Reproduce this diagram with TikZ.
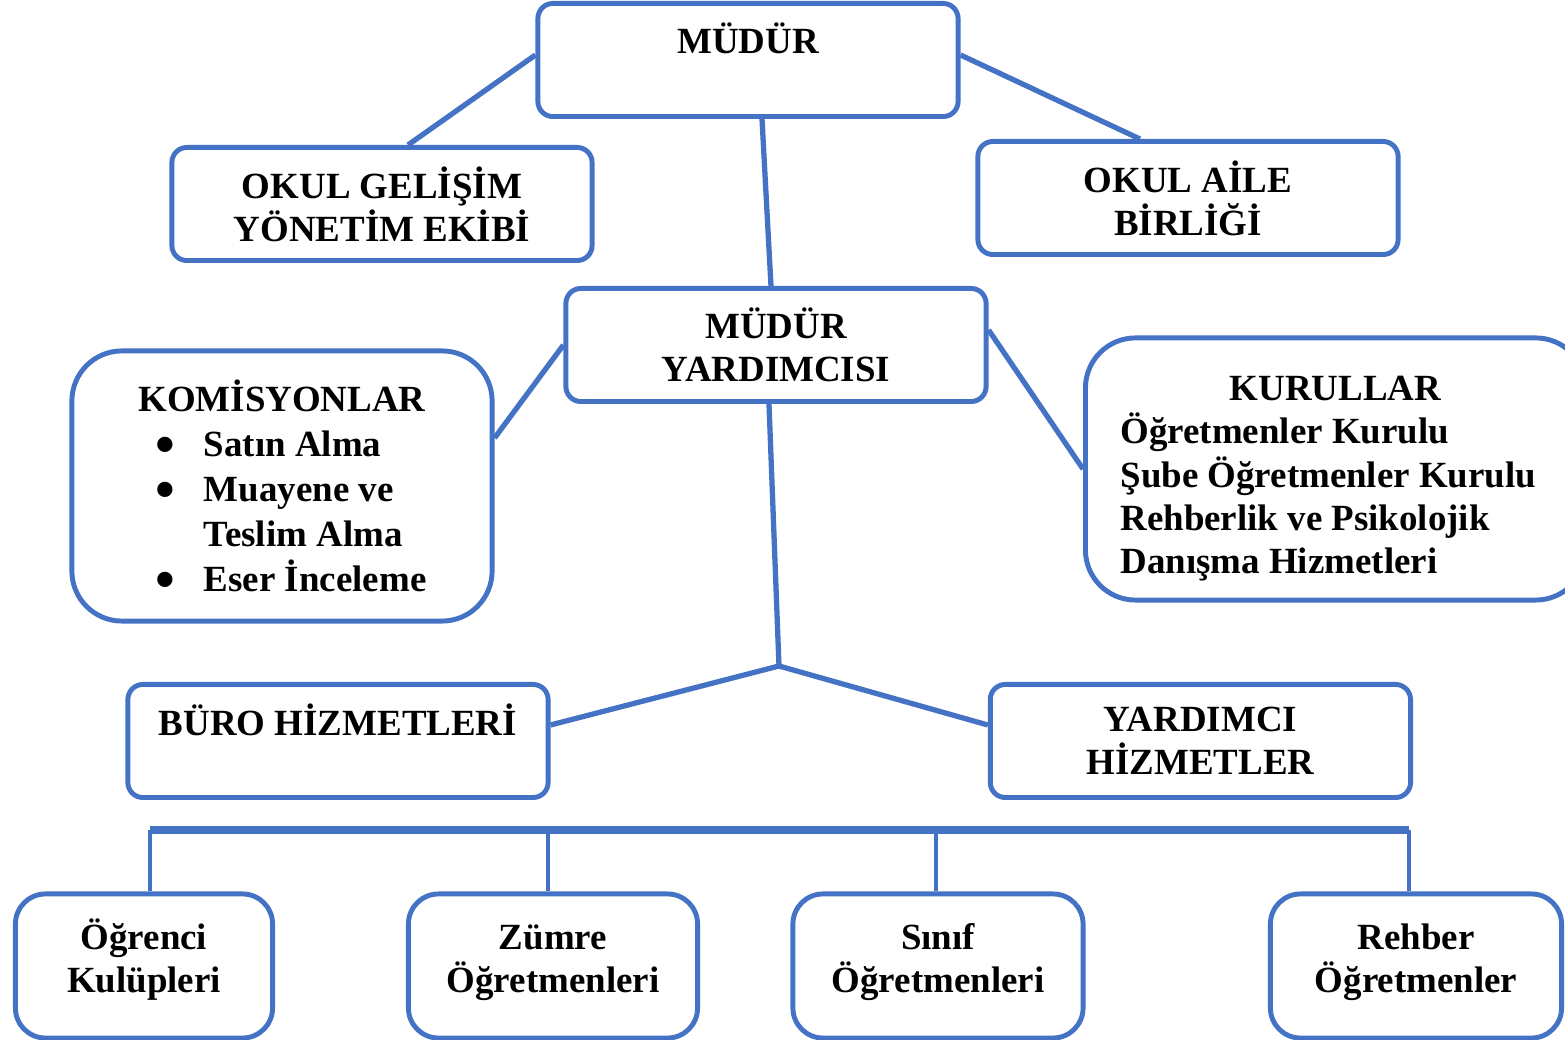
\documentclass[tikz,border=0pt]{standalone}
\usepackage{fontspec}
\setmainfont{Liberation Serif}
\usepackage{tikz}
\usetikzlibrary{positioning,calc}
\definecolor{orgblue}{HTML}{4472C4}
\newcommand{\bigdot}{\smash{\raisebox{-2pt}{\fontsize{16}{12}\selectfont\textbullet}}}
\newcommand{\tallstrut}{\vphantom{Ö}}
\newcommand{\deepstrut}{\rule[-0.2cm]{0pt}{0pt}}

\begin{document}
\begin{tikzpicture}[
    x=0.01cm, y=-0.01cm,
    font=\fontsize{10.5}{12.3}\selectfont\bfseries,
    box/.style={rectangle, draw=orgblue, line width=1.4pt, rounded corners=0.15cm, minimum width=4.2cm, minimum height=1.13cm, align=center, inner sep=0pt},
    bigbox/.style={rectangle, draw=orgblue, line width=1.4pt, rounded corners=0.5cm, align=flush left, inner ysep=0pt},
    unit/.style={rectangle, draw=orgblue, line width=1.4pt, rounded corners=0.3cm, minimum height=1.44cm, align=center, inner sep=0pt},
    link/.style={draw=orgblue, line width=1.5pt},
    bar/.style={draw=orgblue, line width=2pt}
]
\useasboundingbox (0,0) rectangle (1565,1040);

% top levels
\node[box] (mudur) at (748,60) {MÜDÜR\\~};
\node[box] (gelisim) at (382,204) {OKUL GELİŞİM\\YÖNETİM EKİBİ};
\node[box] (aile) at (1188,198) {OKUL AİLE\\BİRLİĞİ};
\node[box] (yard) at (776,345) {MÜDÜR\\YARDIMCISI};

\node[bigbox, font=\fontsize{10.5}{12.8}\selectfont\bfseries, text width=3.6cm, minimum width=4.2cm, minimum height=2.7cm, inner xsep=0.3cm] (komisyon) at (282,486) {%
    \hfill KOMİSYONLAR\hfill\mbox{}\\
    \hspace*{0.54cm}\makebox[0.48cm][l]{\bigdot}Satın Alma\\
    \hspace*{0.54cm}\makebox[0.48cm][l]{\bigdot}Muayene ve\\
    \hspace*{1.02cm}Teslim Alma\\
    \hspace*{0.54cm}\makebox[0.48cm][l]{\bigdot}Eser İnceleme};
\node[bigbox, text width=4.3cm, minimum height=2.62cm, inner xsep=0.35cm, anchor=west] (kurul) at (1083,469) {%
    \rule{0pt}{0.44cm}\hfill KURULLAR\hfill\mbox{}\\
    Öğretmenler Kurulu\\
    Şube Öğretmenler Kurulu\\
    Rehberlik ve Psikolojik\\
    Danışma Hizmetleri};

\node[box] (buro) at (338,741) {BÜRO HİZMETLERİ\\~};
\node[box, right=4.37cm of buro] (yardimci) {YARDIMCI\\HİZMETLER};

% bottom row
\node[unit, minimum width=2.57cm] (ogrenci) at (144,966) {\tallstrut Öğrenci\\Kulüpleri\deepstrut};
\node[unit, minimum width=2.89cm] (zumre) at (553,966) {\tallstrut Zümre\\Öğretmenleri\deepstrut};
\node[unit, minimum width=2.9cm] (sinif) at (938,966) {\tallstrut Sınıf\\Öğretmenleri\deepstrut};
\node[unit, minimum width=2.91cm] (rehber) at (1416,966) {\tallstrut Rehber\\Öğretmenler\deepstrut};

% connectors
\draw[link] ([yshift=0.05cm]mudur.west) -- ([xshift=0.26cm]gelisim.north);
\draw[link] ([yshift=0.05cm]mudur.east) -- ([xshift=-0.48cm]aile.north);
\draw[link] ([xshift=0.14cm]mudur.south) -- ([xshift=-0.05cm]yard.north);
\draw[link] (yard.west) -- ([yshift=0.48cm]komisyon.east);
\draw[link] ([yshift=0.15cm]yard.east) -- (kurul.west);

\coordinate (split) at (779,666);
\draw[link] ([xshift=-0.07cm]yard.south) -- (split);
\draw[link] ([yshift=0.16cm]buro.east) -- (split) -- ([yshift=0.16cm]yardimci.west);

\coordinate (rail) at (0,830);
\draw[bar] ([xshift=0.06cm]ogrenci.north |- rail) -- ([xshift=-0.07cm]rehber.north |- rail);
\foreach \n/\dx in {ogrenci/0.06,zumre/-0.05,sinif/-0.02,rehber/-0.07}
    \draw[link, line width=1.2pt] ([xshift=\dx cm]\n.north) -- ([xshift=\dx cm]\n.north |- rail);

\end{tikzpicture}
\end{document}
